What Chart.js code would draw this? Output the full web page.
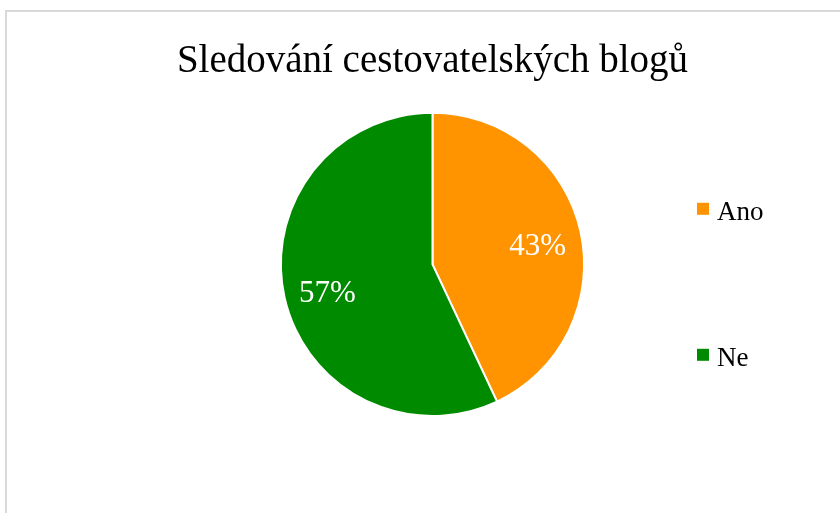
<!DOCTYPE html>
<html lang="cs">
<head>
<meta charset="utf-8">
<script src="https://cdn.jsdelivr.net/npm/chart.js@4.4.1/dist/chart.umd.min.js"></script>
<style>
  html, body { margin: 0; padding: 0; width: 840px; height: 513px; overflow: hidden; background: #fff; }
  #ramecek { position: absolute; left: 5px; top: 10px; width: 900px; height: 600px;
             border-left: 2px solid #d9d9d9; border-top: 2px solid #d9d9d9; }
  #graf { position: absolute; left: 0; top: 0; }
</style>
</head>
<body>
<div id="ramecek"></div>
<canvas id="graf" width="840" height="513"></canvas>
<script>
// Data grafu
const nazev = 'Sledování cestovatelských blogů';
const kategorie = ['Ano', 'Ne'];
const hodnoty = [43, 57];
const barvy = ['#ff9300', '#008a00'];

const pismo = "'Liberation Serif', 'DejaVu Serif', serif";

// Procenta uvnitř výsečí
const popiskyPlugin = {
    id: 'popisky',
    afterDatasetsDraw(chart) {
        const ctx = chart.ctx;
        const meta = chart.getDatasetMeta(0);
        const data = chart.data.datasets[0].data;
        const soucet = data.reduce((a, b) => a + b, 0);
        ctx.save();
        ctx.fillStyle = '#ffffff';
        ctx.font = '31px ' + pismo;
        ctx.textAlign = 'center';
        ctx.textBaseline = 'alphabetic';
        meta.data.forEach((arc, i) => {
            const p = arc.getProps(['x', 'y', 'startAngle', 'endAngle', 'outerRadius'], true);
            const uhel = (p.startAngle + p.endAngle) / 2;
            const r = p.outerRadius * 0.71;
            const text = Math.round(data[i] / soucet * 100) + '%';
            ctx.fillText(text, p.x + Math.cos(uhel) * r, p.y + Math.sin(uhel) * r + 14);
        });
        ctx.restore();
    }
};

// Legenda vpravo (čtverečky s textem)
const legendaPlugin = {
    id: 'legendaVpravo',
    afterDraw(chart) {
        const ctx = chart.ctx;
        const area = chart.chartArea;
        const x = 697;
        const y0 = area.top + 91;
        const krok = 146;
        ctx.save();
        ctx.font = '27px ' + pismo;
        ctx.textBaseline = 'alphabetic';
        chart.data.labels.forEach((label, i) => {
            const y = y0 + i * krok;
            ctx.fillStyle = chart.data.datasets[0].backgroundColor[i];
            ctx.fillRect(x, y, 12, 12);
            ctx.fillStyle = '#000000';
            ctx.fillText(label, x + 20, y + 17);
        });
        ctx.restore();
    }
};

new Chart(document.getElementById('graf'), {
    type: 'pie',
    data: {
        labels: kategorie,
        datasets: [{
            data: hodnoty,
            backgroundColor: barvy,
            borderColor: '#ffffff',
            borderWidth: 2
        }]
    },
    options: {
        responsive: false,
        animation: false,
        layout: { padding: { top: 0, bottom: 96, left: 25, right: 0 } },
        plugins: {
            legend: { display: false },
            tooltip: { enabled: false },
            title: {
                display: true,
                text: nazev,
                color: '#000000',
                font: { family: pismo, size: 39, weight: 'normal' },
                padding: { top: 38, bottom: 27 }
            }
        }
    },
    plugins: [popiskyPlugin, legendaPlugin]
});
</script>
</body>
</html>
